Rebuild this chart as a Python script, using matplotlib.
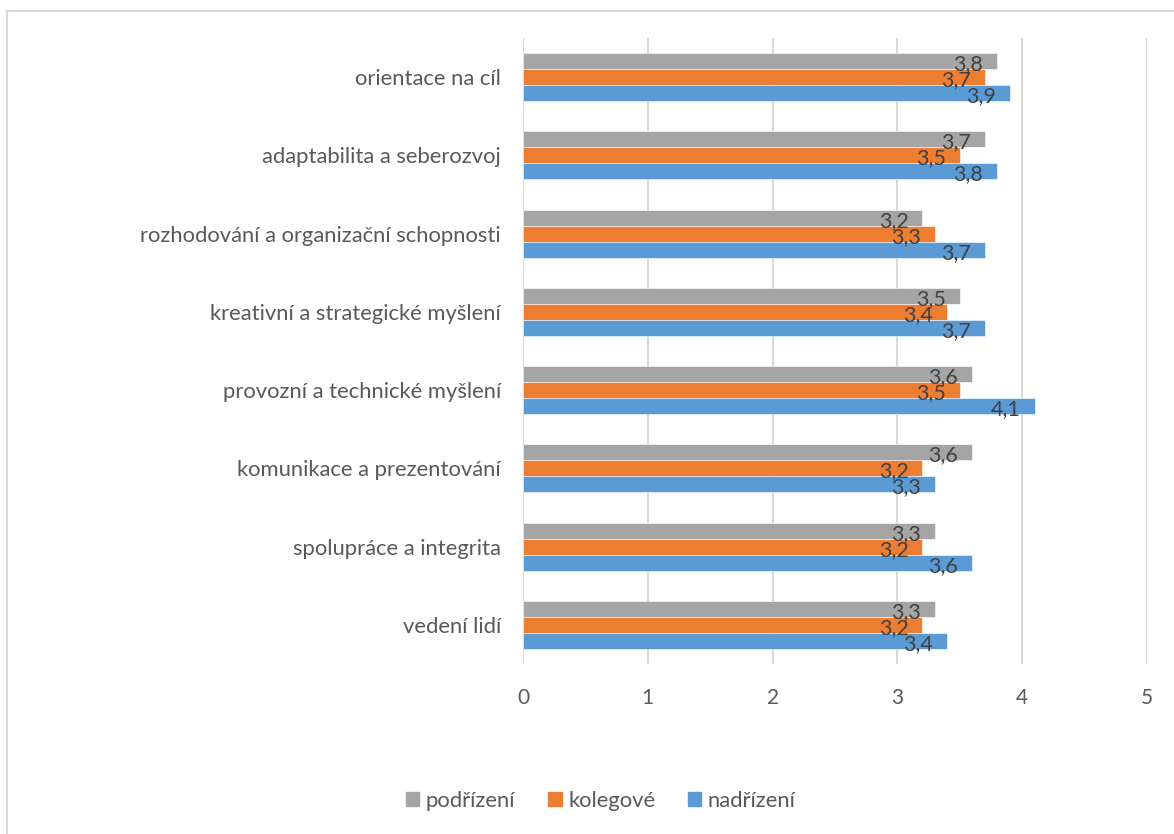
import numpy as np
import matplotlib
matplotlib.use("Agg")
from matplotlib.pylab import plt
from matplotlib.patches import Rectangle, Patch

plt.rcParams['font.family'] = ['Lato', 'DejaVu Sans']

# categories listed from bottom to top (as drawn on the y axis)
categories = ["vedení lidí", "spolupráce a integrita", "komunikace a prezentování",
              "provozní a technické myšlení", "kreativní a strategické myšlení",
              "rozhodování a organizační schopnosti", "adaptabilita a seberozvoj",
              "orientace na cíl"]
podrizeni = [3.3, 3.3, 3.6, 3.6, 3.5, 3.2, 3.7, 3.8]
kolegove = [3.2, 3.2, 3.2, 3.5, 3.4, 3.3, 3.5, 3.7]
nadrizeni = [3.4, 3.6, 3.3, 4.1, 3.7, 3.7, 3.8, 3.9]
series_names = ["podřízení", "kolegové", "nadřízení"]
colors = ["#A5A5A5", "#ED7D31", "#5B9BD5"]

fig = plt.figure(figsize=(11.74, 8.34), dpi=100)
ax = fig.add_axes([523/1174, 1 - 664/834, (1147-523)/1174, (664-38)/834])

# chart frame (Excel style)
fig.patches.append(Rectangle((7/1174, -0.1), 1.2, 1.1 - 11/834, transform=fig.transFigure,
                             fill=False, edgecolor="#d9d9d9", lw=1.5))

y = np.arange(len(categories))
h = 0.2045
series = [podrizeni, kolegove, nadrizeni]
offsets = [h, 0, -h]
for vals, off, c in zip(series, offsets, colors):
    bars = ax.barh(y + off, vals, height=h, color=c, edgecolor="white", linewidth=0.4, zorder=3)
    for b, v in zip(bars, vals):
        ax.annotate(("%.1f" % v).replace(".", ","), (v, b.get_y() + h/2),
                    xytext=(-14, -3), textcoords="offset pixels",
                    ha="right", va="center", fontsize=15.5, color="#404040", zorder=4)

ax.set_xlim(0, 5)
ax.set_ylim(-0.5, len(categories) - 0.5)
ax.set_xticks(range(6))
ax.set_yticks(y)
ax.set_yticklabels(categories)
ax.grid(axis="x", color="#d9d9d9", lw=1.5, zorder=0)
ax.tick_params(axis="y", length=0, pad=16, labelsize=15.8, labelcolor="#595959")
ax.tick_params(axis="x", length=0, pad=17, labelsize=15, labelcolor="#595959")
for s in ax.spines.values():
    s.set_visible(False)

handles = [Patch(color=c) for c in colors]
fig.legend(handles, series_names, loc="center", bbox_to_anchor=(601/1174, 1 - 801/834),
           ncol=3, frameon=False, fontsize=15.8, labelcolor="#595959",
           handlelength=0.6, handleheight=0.6, handletextpad=0.3, columnspacing=1.5)

plt.savefig("out.png", dpi=100)
